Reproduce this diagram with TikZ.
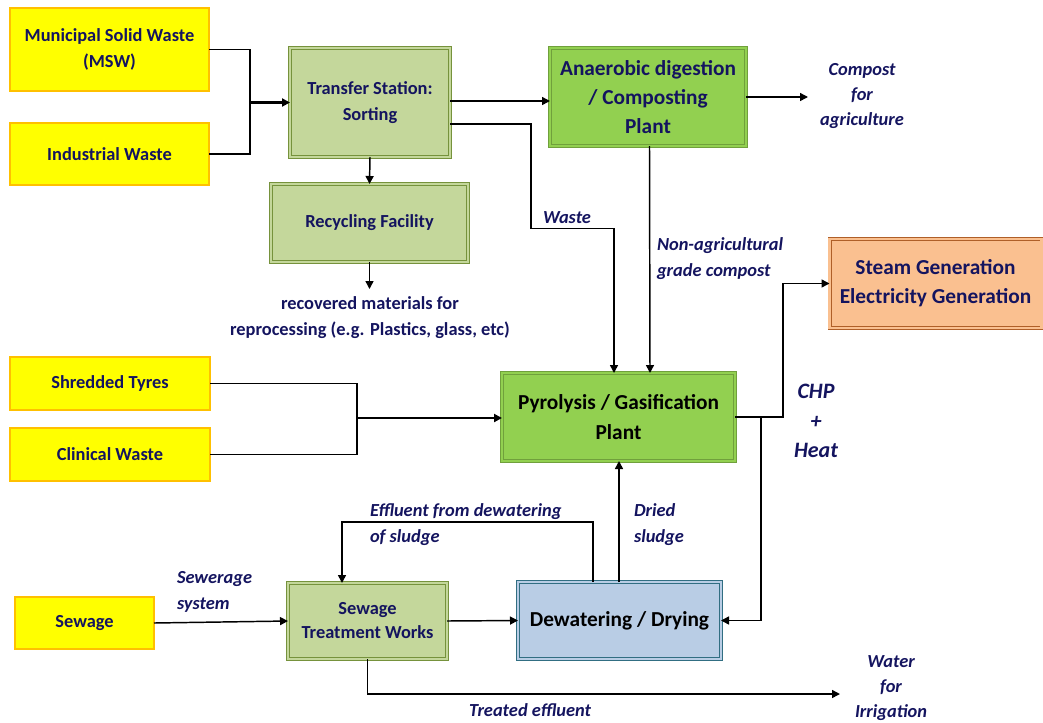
\documentclass[tikz,border=0pt]{standalone}
\usepackage{fontspec}
\setmainfont{Carlito}
\usetikzlibrary{arrows.meta,calc}
\definecolor{navy}{RGB}{20,20,95}
\definecolor{yfill}{RGB}{255,255,0}
\definecolor{yborder}{RGB}{255,192,0}
\definecolor{lgfill}{RGB}{196,215,155}
\definecolor{lgborder}{RGB}{118,146,60}
\definecolor{bgfill}{RGB}{146,208,80}
\definecolor{bgborder}{RGB}{112,160,60}
\definecolor{stfill}{RGB}{250,192,144}
\definecolor{stborder}{RGB}{175,95,40}
\definecolor{dwfill}{RGB}{185,205,229}
\definecolor{dwborder}{RGB}{49,110,130}
\begin{document}
\begin{tikzpicture}[x=0.75pt,y=-0.75pt,
  every node/.style={inner sep=0pt, outer sep=0pt, align=center},
  boxtext/.style={text=navy, font=\bfseries\fontsize{13.8}{20}\selectfont},
  bigtext/.style={font=\bfseries\fontsize{16}{22}\selectfont},
  ybox/.style={boxtext, draw=yborder, fill=yfill, line width=1.1pt},
  lgbox/.style={boxtext, draw=lgborder, fill=lgfill, double=lgfill, double distance=1.6pt, line width=0.6pt},
  bgbox/.style={bigtext, draw=bgborder, fill=bgfill, double=bgfill, double distance=1.6pt, line width=0.6pt},
  stbox/.style={bigtext, text=navy, draw=stborder, fill=stfill, double=stfill, double distance=1.6pt, line width=0.7pt},
  dwbox/.style={bigtext, text=black, draw=dwborder, fill=dwfill, double=dwfill, double distance=1.6pt, line width=0.7pt},
  lbl/.style={text=navy, font=\bfseries\itshape\fontsize{13.8}{19.5}\selectfont},
  conn/.style={line width=1.1pt, draw=black},
  thickconn/.style={line width=1.8pt, draw=black},
  arr/.style={conn, -{Triangle[length=6pt,width=6pt]}},
  thickarr/.style={thickconn, -{Triangle[length=6pt,width=6pt]}},
]
\useasboundingbox (0,0) rectangle (1043,722);

% boxes
\node[ybox, minimum width=149.25pt, minimum height=62.25pt] (msw) at (109.5,49.5) {Municipal Solid Waste\\(MSW)};
\node[ybox, minimum width=149.25pt, minimum height=46.5pt] (ind) at (109.5,154) {Industrial Waste};
\node[lgbox, font=\bfseries\fontsize{13.8}{19}\selectfont, minimum width=120pt, minimum height=81.75pt] (ts) at (370,102.5) {Transfer Station:\\Sorting};
\node[lgbox, minimum width=147.75pt, minimum height=58.5pt] (rec) at (369.5,223) {Recycling Facility};
\node[bgbox, text=navy, minimum width=147pt, minimum height=73.5pt] (ana) at (648,97) {Anaerobic digestion\\/ Composting\\Plant};
\node[stbox, minimum width=159pt, minimum height=66.75pt] (st) at (935.5,283.5) {Steam Generation\\Electricity Generation};
\node[ybox, minimum width=150pt, minimum height=39.75pt] (tyre) at (110,383.5) {Shredded Tyres};
\node[ybox, minimum width=150pt, minimum height=39.75pt] (clin) at (110,454.5) {Clinical Waste};
\node[bgbox, text=black, minimum width=174.75pt, minimum height=66pt] (pyro) at (618.5,417) {Pyrolysis / Gasification\\Plant};
\node[ybox, minimum width=104.25pt, minimum height=39pt] (sew) at (84.5,623) {Sewage};
\node[lgbox, font=\bfseries\fontsize{13.8}{18}\selectfont, minimum width=119.25pt, minimum height=57pt] (stw) at (367.5,621) {Sewage\\Treatment Works};
\node[dwbox, minimum width=152.25pt, minimum height=57.75pt] (dew) at (619.5,620.5) {Dewatering / Drying};

% free ends and labels
\coordinate (j1) at (250,102.5);
\coordinate (j2) at (357,418);
\coordinate (recend) at (369.5,289);
\coordinate (compend) at (808,97);
\coordinate (irrend) at (840,694);

\node[text=navy, font=\bfseries\fontsize{13.8}{19}\selectfont] (recl) at (370,317.5) {recovered materials for\\reprocessing (e.g. Plastics, glass, etc)};
\node[lbl, font=\bfseries\itshape\fontsize{13.8}{19}\selectfont] (compl) at (862,96) {Compost\\for\\agriculture};
\node[lbl, anchor=west] (wastel) at (543,218) {Waste};
\node[lbl, anchor=west, align=left] (nagl) at (657,258.5) {Non-agricultural\\grade compost};
\node[lbl, font=\bfseries\itshape\fontsize{16.5}{22}\selectfont] (chpl) at (816,421) {CHP\\+\\Heat};
\node[lbl, anchor=west, align=left] (effl) at (370,525) {Effluent from dewatering\\of sludge};
\node[lbl, anchor=west, align=left] (dryl) at (634,524.5) {Dried\\sludge};
\node[lbl, anchor=west, align=left] (sewl) at (177,591.5) {Sewerage\\system};
\node[lbl] (treatl) at (530,710) {Treated effluent};
\node[lbl, font=\bfseries\itshape\fontsize{13.8}{19}\selectfont] (waterl) at (891,688) {Water\\for\\Irrigation};

% connectors
\draw[conn] (msw.east) -| (j1);
\draw[conn] (ind.east) -| (j1);
\draw[thickarr] (j1) -- (ts.west);
\draw[arr] ($(ts.east)+(0,-1.5)$) -- ($(ts.east -| ana.west)+(0,-1.5)$);
\draw[arr] ($(ts.east)+(0,21.5)$) -| (531,228.5) -| ($(pyro.north)+(-4.5,0)$);
\draw[arr] (ts.south) -- (rec.north);
\draw[arr] (rec.south) -- (recend);
\draw[arr] (ana.east) -- (compend);
\draw[arr] ($(ana.south)+(1.5,0)$) -- ($(pyro.north)+(31.5,0)$);
\draw[conn] (tyre.east) -| (j2);
\draw[conn] (clin.east) -| (j2);
\draw[thickarr] (j2) -- (j2 -| pyro.west);
\draw[arr] (pyro.east) -| (783,283.5) -- (st.west);
\draw[arr] (761,417) |- (dew.east);
\draw[arr] ($(dew.north)+(-26.5,0)$) |- (342,522) -- (342,583);
\draw[arr] ($(dew.north)+(-0.5,0)$) -- ($(pyro.south)+(0.5,0)$);
\draw[arr] (sew.east) -- (stw.west);
\draw[arr] (stw.east) -- (dew.west);
\draw[arr] (stw.south) |- (irrend);
\end{tikzpicture}
\end{document}
